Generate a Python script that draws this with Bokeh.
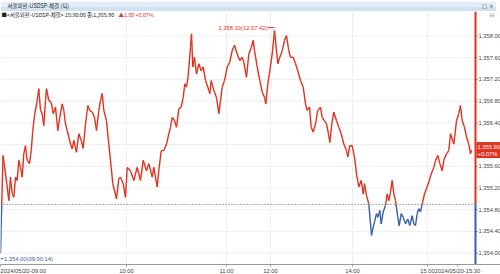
import numpy as np
from bokeh.plotting import figure
from bokeh.layouts import column
from bokeh.models import Range1d, FixedTicker, NumeralTickFormatter, Label
from bokeh.embed import file_html
from bokeh.resources import INLINE

# ---------------- data ----------------
window_title = "서울외환-USDSP-체결 (틱)"
legend_main = "■<서울외환-USDSP-체결> 15:30:00 종:1,355.90"
legend_change = "▲1.00 +0.07%"
prev_close = 1354.90
last_price = 1355.90
last_price_text = "1,355.90"
last_pct_text = "+0.07%"
max_text = "1,358.10(12:07:42)"
min_text = "1,354.00(09:00:14)"

# tick index (x) and price
tick_index = [0, 2.5, 3.3, 6.7, 8.3, 10, 11.7, 13.3, 15, 16.7, 18.3, 20, 21.7, 23.3, 25, 26.7, 29, 30.7,
              32.3, 34.3, 36.7, 38.3, 40, 41.7, 43.3, 45, 46, 48.3, 50.7, 52.7, 55, 57.3, 59.3, 61.7,
              63.3, 65, 66.7, 68.3, 70, 71.7, 73.3, 76, 78.3, 80.7, 82.7, 85, 87.3, 89.3, 91.7, 94,
              96, 98.3, 100, 101.7, 103.3, 106, 108.3, 110.7, 112.3, 114, 116, 118.3, 120, 122.7, 125,
              126.7, 130, 133.3, 136.7, 140, 142.7, 146, 148.3, 151.7, 153.3, 156.7, 158.3, 160.7,
              163.3, 166, 168.3, 170, 171.7, 174, 176, 178.3, 180.7, 182.7, 184.3, 186, 187.7, 190,
              191, 192.3, 194, 196, 198.3, 200.7, 202.7, 205, 207.3, 209.3, 210.7, 213.3, 216, 218.3,
              220, 221.7, 224, 226.7, 229.3, 231.7, 234, 236.7, 239.3, 241.7, 243.3, 246, 248.3,
              250.7, 252.7, 254, 256.7, 259.3, 261.7, 264, 265.3, 267.3, 269.3, 271.7, 274, 276,
              277.3, 279.3, 281.7, 284, 286, 288.3, 290, 292.7, 295, 297.3, 300, 302.7, 305, 306.7,
              309, 310.7, 312.7, 315, 317.3, 320, 321.7, 324, 326, 328, 329.3, 331.3, 333.3, 336,
              338.3, 340.7, 343.3, 346, 347.3, 349.3, 351.7, 354, 356, 358.3, 360.7, 362.7, 364,
              366, 368.3, 370, 371, 372.7, 374.3, 376, 377.3, 379.3, 380.7, 382.7, 385, 386.7,
              388.3, 390, 391.7, 393.3, 395, 397.3, 398.7, 400.7, 402.7, 405, 407.3, 409.3, 411.7,
              413.3, 415, 416.7, 418.3, 420, 421.7, 424, 426, 428.3, 430.7, 433.3, 435, 437.3,
              439.3, 441.7, 443.3, 446, 448.3, 450, 453.3, 456, 458.3, 460, 461.7, 464, 466, 468.3,
              470, 471]
price = [1354.00, 1355.80, 1355.70, 1355.22, 1354.97, 1355.40, 1355.10, 1355.03, 1355.40, 1355.34,
         1355.71, 1355.58, 1355.40, 1355.83, 1355.98, 1355.71, 1355.65, 1355.89, 1356.26, 1356.57,
         1356.81, 1357.03, 1356.63, 1356.57, 1356.35, 1356.81, 1357.03, 1356.81, 1356.78, 1356.57,
         1356.69, 1356.26, 1356.50, 1356.75, 1356.63, 1356.38, 1356.26, 1356.14, 1356.01, 1355.92,
         1356.08, 1355.86, 1356.20, 1356.08, 1355.93, 1356.38, 1356.72, 1356.63, 1356.60, 1356.50,
         1356.26, 1356.63, 1356.81, 1356.94, 1356.63, 1356.44, 1356.01, 1355.58, 1355.28, 1355.15,
         1355.00, 1355.37, 1355.40, 1355.28, 1355.03, 1355.58, 1355.52, 1355.34, 1355.58, 1355.34,
         1355.71, 1355.52, 1355.65, 1355.40, 1355.58, 1355.22, 1355.52, 1355.89, 1355.89, 1356.01,
         1356.20, 1356.32, 1356.50, 1356.44, 1356.32, 1356.66, 1356.69, 1356.87, 1357.12, 1357.06,
         1357.27, 1357.79, 1358.04, 1357.43, 1357.61, 1357.30, 1357.49, 1357.36, 1357.43, 1357.18,
         1357.06, 1356.94, 1357.18, 1357.00, 1356.87, 1356.57, 1356.81, 1357.06, 1357.18, 1357.43,
         1357.52, 1357.73, 1357.83, 1357.67, 1357.55, 1357.61, 1357.52, 1357.24, 1357.67, 1357.79,
         1357.92, 1357.73, 1357.43, 1357.18, 1356.97, 1356.87, 1356.75, 1357.12, 1357.36, 1357.67,
         1358.10, 1357.73, 1357.49, 1357.61, 1357.73, 1357.92, 1358.01, 1357.73, 1357.61, 1357.61,
         1357.49, 1357.36, 1357.18, 1357.06, 1356.75, 1356.63, 1356.69, 1356.32, 1356.23, 1356.38,
         1356.63, 1356.69, 1356.50, 1356.44, 1356.38, 1356.20, 1356.04, 1356.38, 1356.60, 1356.44,
         1356.32, 1356.20, 1356.01, 1355.89, 1355.77, 1355.98, 1355.98, 1355.77, 1355.46, 1355.22,
         1355.34, 1355.09, 1355.28, 1355.06, 1354.91, 1354.54, 1354.33, 1354.48, 1354.60, 1354.73,
         1354.66, 1354.79, 1354.54, 1354.76, 1354.88, 1355.09, 1354.97, 1355.12, 1355.34, 1355.09,
         1354.97, 1354.66, 1354.51, 1354.73, 1354.66, 1354.54, 1354.63, 1354.51, 1354.69, 1354.54,
         1354.51, 1354.73, 1354.82, 1354.76, 1354.91, 1355.09, 1355.19, 1355.31, 1355.46, 1355.58,
         1355.71, 1355.80, 1355.65, 1355.52, 1355.71, 1355.83, 1355.89, 1356.20, 1356.01, 1356.44,
         1356.57, 1356.72, 1356.44, 1356.32, 1356.14, 1356.01, 1355.83, 1355.90]

x_tick_index = [0, 126, 226, 270, 352, 427, 457]
x_tick_labels = ["2024/05/20-09:00", "10:00", "11:00", "12:00", "14:00", "15:00", "2024/05/20-15:30"]
y_ticks = [1354.0, 1354.4, 1354.8, 1355.2, 1355.6, 1356.0, 1356.4, 1356.8, 1357.2, 1357.6, 1358.0]

# ---------------- styling ----------------
RED = "#e0321f"
BLUE = "#3a5fa6"
NUM_FONT = "Liberation Sans"
KR_FONT = "Noto Sans CJK KR"

x_lo, x_plot_hi, x_canvas_hi = 0, 475, 500
y_lo, y_hi = 1353.792, 1358.452
FRAME_H = 253

# ---- title bar ----
bar = figure(width=500, height=11, x_range=Range1d(0, 500), y_range=Range1d(0, 1),
             toolbar_location=None, output_backend="svg", min_border=0)
bar.axis.visible = False
bar.grid.visible = False
bar.outline_line_color = None
bar.quad(left=[0], right=[500], bottom=[0.5], top=[1], fill_color="#e4eef9", line_color=None)
bar.quad(left=[0], right=[500], bottom=[0], top=[0.5], fill_color="#d0e1f2", line_color=None)
bar.segment(x0=[0], y0=[0.03], x1=[500], y1=[0.03], line_color="#a8c2dd", line_width=1)
bar.add_layout(Label(x=7, y=0.55, text=window_title, text_font=KR_FONT, text_font_size="5.5px",
                     text_color="#222222", text_baseline="middle"))
bar.add_layout(Label(x=497, y=0.55, text="□ ×", text_font="DejaVu Sans", text_font_size="5.5px",
                     text_color="#333333", text_baseline="middle", text_align="right"))

# ---- main chart (frame spans the whole width; price scale drawn at its right end) ----
p = figure(frame_width=500, frame_height=FRAME_H, x_range=Range1d(x_lo, x_canvas_hi),
           y_range=Range1d(y_lo, y_hi), toolbar_location=None, output_backend="svg",
           y_axis_location="right",
           min_border_left=0, min_border_right=0, min_border_top=0, min_border_bottom=0)
p.outline_line_color = None
p.background_fill_color = "white"
p.border_fill_color = "white"

xa = p.xaxis[0]
xa.ticker = FixedTicker(ticks=x_tick_index)
xa.major_label_overrides = {t: lab for t, lab in zip(x_tick_index, x_tick_labels)}
xa.major_label_text_align = "left"
xa.major_label_text_font = NUM_FONT
xa.major_label_text_font_size = "5.8px"
xa.major_label_text_color = "#444444"
xa.axis_line_color = "#9a9a9a"
xa.major_tick_line_color = "#9a9a9a"
xa.major_tick_out = 2
xa.major_tick_in = 0
xa.minor_tick_line_color = None
xa.major_label_standoff = 1

ya = p.yaxis[0]
ya.ticker = FixedTicker(ticks=y_ticks)
ya.formatter = NumeralTickFormatter(format="0,0.00")
ya.major_label_text_font = NUM_FONT
ya.major_label_text_font_size = "5.8px"
ya.major_label_text_color = "#444444"
ya.axis_line_color = None
ya.major_tick_line_color = None
ya.major_tick_out = 0
ya.major_tick_in = 0
ya.minor_tick_line_color = None
ya.major_label_standoff = -22

# grid lines limited to the price area
p.ygrid.visible = False
p.segment(x0=[x_lo] * len(y_ticks), y0=y_ticks, x1=[x_plot_hi] * len(y_ticks), y1=y_ticks,
          line_color="#eeeeee", line_width=1)
p.xgrid.ticker = FixedTicker(ticks=x_tick_index[1:-1])
p.xgrid.grid_line_color = "#eeeeee"

# small tick marks on the price scale
p.segment(x0=[x_plot_hi] * len(y_ticks), y0=y_ticks, x1=[x_plot_hi + 2] * len(y_ticks), y1=y_ticks,
          line_color="#777777", line_width=1)

# previous close dotted line
p.segment(x0=[x_lo], y0=[prev_close], x1=[x_plot_hi], y1=[prev_close], line_color="#555555",
          line_dash="1 2", line_width=1)

# coloured segments: red above previous close, blue below
px = np.array(tick_index, dtype=float)
py = np.array(price, dtype=float)
x0s, y0s, x1s, y1s, cols = [], [], [], [], []
for i in range(len(px) - 1):
    a = py[i] - prev_close
    b = py[i + 1] - prev_close
    if a * b < 0:
        t = a / (a - b)
        xm = px[i] + t * (px[i + 1] - px[i])
        x0s += [px[i], xm]; y0s += [py[i], prev_close]
        x1s += [xm, px[i + 1]]; y1s += [prev_close, py[i + 1]]
        cols += [RED if a > 0 else BLUE, RED if b > 0 else BLUE]
    else:
        x0s.append(px[i]); y0s.append(py[i]); x1s.append(px[i + 1]); y1s.append(py[i + 1])
        cols.append(RED if (a + b) >= 0 else BLUE)
p.segment(x0=x0s, y0=y0s, x1=x1s, y1=y1s, line_color=cols, line_width=1.4)

# price-scale edge line (red above prev close, blue below)
p.segment(x0=[x_plot_hi, x_plot_hi], y0=[y_hi, prev_close], x1=[x_plot_hi, x_plot_hi],
          y1=[prev_close, y_lo], line_color=[RED, BLUE], line_width=2)

# max / min annotations
imax = int(np.argmax(py)); imin = int(np.argmin(py))
px_per_unit = FRAME_H / (y_hi - y_lo)
my = py[imax] + 3 / px_per_unit
p.segment(x0=[px[imax] - 7], y0=[my], x1=[px[imax]], y1=[my], line_color=RED, line_width=1)
p.add_layout(Label(x=px[imax], y=py[imax], text=max_text, text_align="right", text_baseline="middle",
                   x_offset=-7, y_offset=3, text_font=NUM_FONT, text_font_size="5.8px", text_color=RED))
ny = py[imin] - 5.5 / px_per_unit
p.segment(x0=[px[imin]], y0=[ny], x1=[px[imin] + 3], y1=[ny], line_color=BLUE, line_width=1)
p.add_layout(Label(x=px[imin], y=py[imin], text=min_text, text_align="left", text_baseline="middle",
                   x_offset=3.5, y_offset=-5.5, text_font=NUM_FONT, text_font_size="5.8px", text_color=BLUE))

# legend line at top of the frame
p.add_layout(Label(x=x_lo, y=y_hi, text=legend_main, x_offset=1, y_offset=-3, text_baseline="middle",
                   text_font=KR_FONT, text_font_size="5.4px", text_color="#222222"))
p.add_layout(Label(x=x_lo, y=y_hi, text=legend_change, x_offset=118, y_offset=-3, text_baseline="middle",
                   text_font=KR_FONT, text_font_size="5.4px", text_color=RED))
p.add_layout(Label(x=x_canvas_hi, y=y_hi, text="⊟", x_offset=-6, y_offset=-3, text_align="right",
                   text_baseline="middle", text_font="DejaVu Sans", text_font_size="6px",
                   text_color="#888888"))

# last price box on the price scale
box_half = 8 / px_per_unit
p.quad(left=[x_plot_hi + 1], right=[x_canvas_hi], bottom=[last_price - box_half],
       top=[last_price + box_half], fill_color=RED, line_color=None, level="overlay")
p.add_layout(Label(x=x_plot_hi, y=last_price, text=last_price_text, x_offset=2, y_offset=3.5,
                   text_baseline="middle", text_font=NUM_FONT, text_font_size="5.8px", text_color="white",
                   level="overlay"))
p.add_layout(Label(x=x_plot_hi, y=last_price, text=last_pct_text, x_offset=2, y_offset=-3.5,
                   text_baseline="middle", text_font=NUM_FONT, text_font_size="5.8px", text_color="white",
                   level="overlay"))

layout = column(bar, p, spacing=0)
open("out.html", "w").write(file_html(layout, INLINE))
